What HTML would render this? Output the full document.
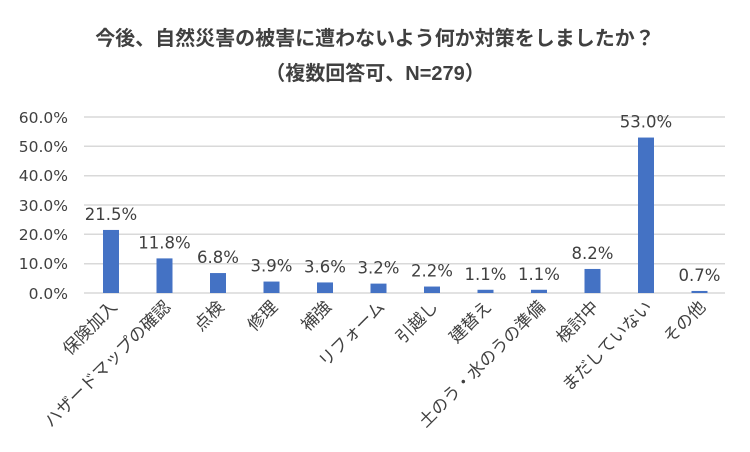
<!DOCTYPE html>
<html><head><meta charset="utf-8"><style>
body{margin:0;background:#fff;}
svg{display:block;font-family:"DejaVu Sans","Noto Sans CJK JP",sans-serif;}
</style></head><body>
<svg width="750" height="452" viewBox="0 0 750 452">
<text x="375" y="45" text-anchor="middle" font-size="20" font-weight="bold" fill="#404040" font-family="Liberation Sans, Noto Sans CJK JP, sans-serif">今後、自然災害の被害に遭わないよう何か対策をしましたか？</text>
<text x="375" y="80" text-anchor="middle" font-size="20" font-weight="bold" fill="#404040" font-family="Liberation Sans, Noto Sans CJK JP, sans-serif">（複数回答可、N=279）</text>
<g stroke="#d9d9d9" stroke-width="1.5">
<line x1="84" x2="725" y1="117" y2="117"/><line x1="84" x2="725" y1="146.3" y2="146.3"/>
<line x1="84" x2="725" y1="175.7" y2="175.7"/><line x1="84" x2="725" y1="205" y2="205"/>
<line x1="84" x2="725" y1="234.3" y2="234.3"/><line x1="84" x2="725" y1="263.7" y2="263.7"/>
<line x1="84" x2="725" y1="293" y2="293"/>
</g>
<g font-size="15.5" fill="#404040" text-anchor="end">
<text x="68" y="123">60.0%</text><text x="68" y="152">50.0%</text><text x="68" y="181">40.0%</text>
<text x="68" y="211">30.0%</text><text x="68" y="240">20.0%</text><text x="68" y="269">10.0%</text><text x="68" y="299">0.0%</text>
</g>
<g fill="#4472c4" id="bars"></g>
<g id="vals" font-size="16.5" fill="#404040" text-anchor="middle"></g>
<g id="cats" font-size="17" fill="#404040" text-anchor="end" font-family="Liberation Sans, Noto Sans CJK JP, sans-serif"></g>
</svg>
<script>
var d=[["保険加入",21.5],["ハザードマップの確認",11.8],["点検",6.8],["修理",3.9],["補強",3.6],["リフォーム",3.2],["引越し",2.2],["建替え",1.1],["土のう・水のうの準備",1.1],["検討中",8.2],["まだしていない",53.0],["その他",0.7]];
var ns="http://www.w3.org/2000/svg",b=document.getElementById("bars"),v=document.getElementById("vals"),c=document.getElementById("cats");
d.forEach(function(e,i){var cx=111+i*53.5,h=e[1]*2.933,y=293-h;
var r=document.createElementNS(ns,"rect");r.setAttribute("x",cx-8);r.setAttribute("y",y);r.setAttribute("width",16);r.setAttribute("height",h);b.appendChild(r);
var t=document.createElementNS(ns,"text");t.setAttribute("x",cx);t.setAttribute("y",y-10);t.textContent=e[1].toFixed(1)+"%";v.appendChild(t);
var l=document.createElementNS(ns,"text");l.setAttribute("transform","translate("+(cx+7)+",308) rotate(-45)");l.textContent=e[0];c.appendChild(l);});
</script>
</body></html>
